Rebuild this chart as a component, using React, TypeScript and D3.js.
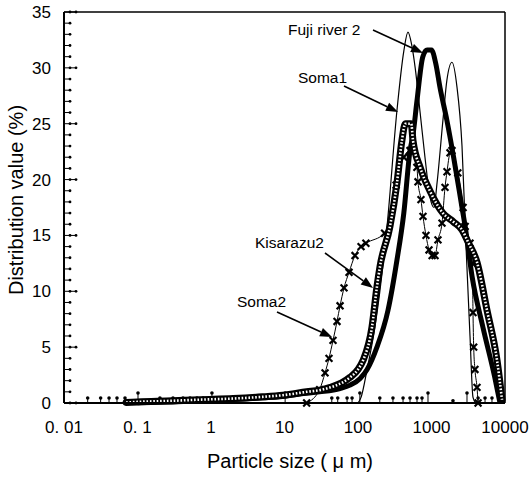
import React from "react";
import * as d3 from "d3";

const width = 531;
const height = 477;
const left = 64;
const right = 505;
const top = 12;
const bottom = 403;

// particle size (um) / distribution value (%)
const fujiSize = [0.1, 0.3, 1, 3.4, 10, 16, 30, 57, 78, 107, 133, 181, 256, 339, 420, 510, 560, 633, 762, 870, 1000, 1150, 1300, 1620, 2000, 2600, 2870, 3570, 5000, 7250, 8550];
const fujiVal = [0.02, 0.1, 0.2, 0.4, 0.6, 0.8, 1.0, 1.3, 1.6, 2.2, 3.0, 5.0, 8.3, 12.8, 17.0, 22.6, 24.0, 27.0, 31.0, 31.6, 31.6, 30.3, 28.3, 25.3, 22.0, 17.5, 15.8, 11.3, 6.8, 2.3, 0];

const kisSize = [0.07, 0.1, 0.3, 0.71, 2, 5, 9.5, 20, 30, 42, 60, 78, 100, 117, 155, 181, 199, 272, 339, 396, 440, 530, 560, 700, 950, 1430, 2000, 2600, 3200, 4160, 5690, 7800, 9100];
const kisVal = [0.05, 0.1, 0.2, 0.3, 0.4, 0.55, 0.7, 1.0, 1.15, 1.4, 1.8, 2.3, 3.0, 3.8, 6.8, 10.4, 12.2, 15.8, 19.7, 23.5, 25.0, 25.0, 23.5, 21.1, 19.0, 17.0, 16.2, 15.5, 14.3, 12.6, 8.3, 3.8, 0.3];

const soma1Size = [100, 110, 133, 170, 250, 339, 420, 478, 540, 600, 700, 815, 950, 1080, 1190, 1430, 1620, 1900, 2220, 2600, 2950, 3340, 3670, 4000];
const soma1Val = [0, 0.5, 3, 6.8, 16, 26.2, 31.5, 33.2, 32, 30, 26, 22, 18.5, 17.5, 19.7, 25.3, 28.9, 30.5, 28.3, 23, 14, 6, 0.5, 0];

const soma2Size = [20, 30, 35.6, 40.3, 45.7, 51.8, 57, 64.5, 75.5, 91, 110, 128, 230, 330, 420, 510, 543, 633, 655, 719, 766, 841, 925, 1020, 1117, 1225, 1390, 1527, 1625, 1786, 1900, 2280, 2690, 2870, 3340, 3600, 3670, 3750, 3900, 4160, 4300];
const soma2Val = [0, 1.2, 2.7, 4.0, 5.6, 7.3, 8.7, 10.3, 11.7, 13.2, 14.0, 14.3, 15.2, 19.5, 22.0, 22.6, 22.6, 21.1, 19.8, 18.2, 16.7, 15.0, 13.7, 13.2, 13.2, 14.6, 16.1, 19.3, 20.7, 22.4, 22.6, 20.6, 17.5, 15.8, 14.3, 12.5, 8.1, 5.0, 3.0, 1.4, 0];

// scattered points sitting on the baseline
const pinSize = [0.021, 0.0315, 0.041, 0.0526, 0.0676, 0.079, 0.1016, 0.202, 0.304, 0.416, 0.518, 0.645, 0.778, 1.03, 10.2, 44, 53, 71, 83, 106, 198, 299, 410, 510, 635, 743, 896, 1960, 3040, 4300, 5350, 6650];
const pinVal = [0.45, 0.45, 0.45, 0.45, 0.45, 0.2, 0.9, 0.45, 0.45, 0.45, 0.45, 0.45, 0.45, 0.9, 0.9, 0.45, 0.45, 0.45, 0.45, 0.9, 0.45, 0.45, 0.45, 0.45, 0.45, 0.45, 0.9, 0.2, 0.9, 0.45, 0.45, 0.45];

const xTicks = [0.01, 0.1, 1, 10, 100, 1000, 10000];
const xTickLabels = ["0. 01", "0. 1", "1", "10", "100", "1000", "10000"];
const yTicks = [0, 5, 10, 15, 20, 25, 30, 35];

const x = d3.scaleLog().domain([0.01, 10000]).range([left, right]);
const y = d3.scaleLinear().domain([0, 35]).range([bottom, top]);

const pairs = (s: number[], v: number[]) => s.map((d, i) => [d, v[i]] as [number, number]);

const line = d3
  .line<[number, number]>()
  .x((d) => x(d[0]))
  .y((d) => y(d[1]))
  .curve(d3.curveMonotoneX);

const font = "'Liberation Sans', Arial, sans-serif";
const cross = d3.symbol().type(d3.symbolTimes).size(32)();

const labels = [
  { text: "Fuji river 2", tx: 288, ty: 35, from: [373, 30], to: [423, 53] },
  { text: "Soma1", tx: 298, ty: 83, from: [344, 86], to: [398, 112] },
  { text: "Kisarazu2", tx: 255, ty: 248, from: [325, 253], to: [373, 288] },
  { text: "Soma2", tx: 237, ty: 307, from: [277, 312], to: [332, 337] },
];

const Arrow = ({ from, to }: { from: number[]; to: number[] }) => {
  const ang = Math.atan2(to[1] - from[1], to[0] - from[0]);
  const len = 12;
  const w = 4.5;
  const bx = to[0] - len * Math.cos(ang);
  const by = to[1] - len * Math.sin(ang);
  const px = -Math.sin(ang) * w;
  const py = Math.cos(ang) * w;
  return (
    <g>
      <line x1={from[0]} y1={from[1]} x2={bx} y2={by} stroke="black" strokeWidth={1.6} />
      <polygon points={`${to[0]},${to[1]} ${bx + px},${by + py} ${bx - px},${by - py}`} fill="black" />
    </g>
  );
};

const App = () => {
  const minor = d3.range(0, 36);
  return (
    <svg width={width} height={height} style={{ position: "absolute", left: 0, top: 0, background: "white" }}>
      {/* frame */}
      <line x1={left} y1={top} x2={right} y2={top} stroke="black" strokeWidth={1.5} />
      <line x1={right} y1={top} x2={right} y2={bottom} stroke="black" strokeWidth={1.5} />

      {/* y ticks with dots */}
      {minor.map((t) => {
        const major = t % 5 === 0;
        return (
          <g key={t}>
            <line x1={left} y1={y(t)} x2={left + (major ? 12 : 6)} y2={y(t)} stroke="black" strokeWidth={1} />
            <circle cx={left + 6} cy={y(t)} r={1.4} fill="black" />
            {major && <circle cx={left + 12} cy={y(t)} r={1.4} fill="black" />}
          </g>
        );
      })}

      {/* baseline points */}
      {pinSize.map((s, i) => (
        <g key={i}>
          <line x1={x(s)} y1={bottom} x2={x(s)} y2={y(pinVal[i])} stroke="black" strokeWidth={1} />
          <circle cx={x(s)} cy={y(pinVal[i])} r={1.8} fill="black" />
        </g>
      ))}

      {/* Soma1 */}
      <path d={line(pairs(soma1Size, soma1Val)) || ""} fill="none" stroke="black" strokeWidth={1.2} />

      {/* Fuji river 2 */}
      <path d={line(pairs(fujiSize, fujiVal)) || ""} fill="none" stroke="black" strokeWidth={5} strokeLinejoin="round" />

      {/* Soma2 */}
      <path d={line(pairs(soma2Size, soma2Val)) || ""} fill="none" stroke="black" strokeWidth={1} />
      {soma2Size.map((s, i) => (
        <path key={i} d={cross || ""} transform={`translate(${x(s)},${y(soma2Val[i])})`} fill="none" stroke="black" strokeWidth={2.2} />
      ))}

      {/* Kisarazu2 */}
      <path d={line(pairs(kisSize, kisVal)) || ""} fill="none" stroke="black" strokeWidth={7} strokeLinejoin="round" strokeLinecap="round" />
      <path d={line(pairs(kisSize, kisVal)) || ""} fill="none" stroke="white" strokeWidth={2.6} strokeDasharray="1.6 1.8" />

      {/* axes */}
      <line x1={left} y1={top} x2={left} y2={bottom} stroke="black" strokeWidth={2} />
      <line x1={left} y1={bottom} x2={right} y2={bottom} stroke="black" strokeWidth={2} />

      {yTicks.map((t) => (
        <text key={t} x={51} y={y(t) + 6} textAnchor="end" fontFamily={font} fontSize={17}>
          {t}
        </text>
      ))}
      {xTicks.map((t, i) => (
        <text key={t} x={x(t)} y={433} textAnchor="middle" fontFamily={font} fontSize={17}>
          {xTickLabels[i]}
        </text>
      ))}

      <text x={290} y={468} textAnchor="middle" fontFamily={font} fontSize={20}>
        Particle size ( μ m)
      </text>
      <text transform="translate(23,200) rotate(-90)" textAnchor="middle" fontFamily={font} fontSize={20}>
        Distribution value (%)
      </text>

      {labels.map((l) => (
        <g key={l.text}>
          <text x={l.tx} y={l.ty} fontFamily={font} fontSize={15.5}>
            {l.text}
          </text>
          <Arrow from={l.from} to={l.to} />
        </g>
      ))}
    </svg>
  );
};

export default App;
